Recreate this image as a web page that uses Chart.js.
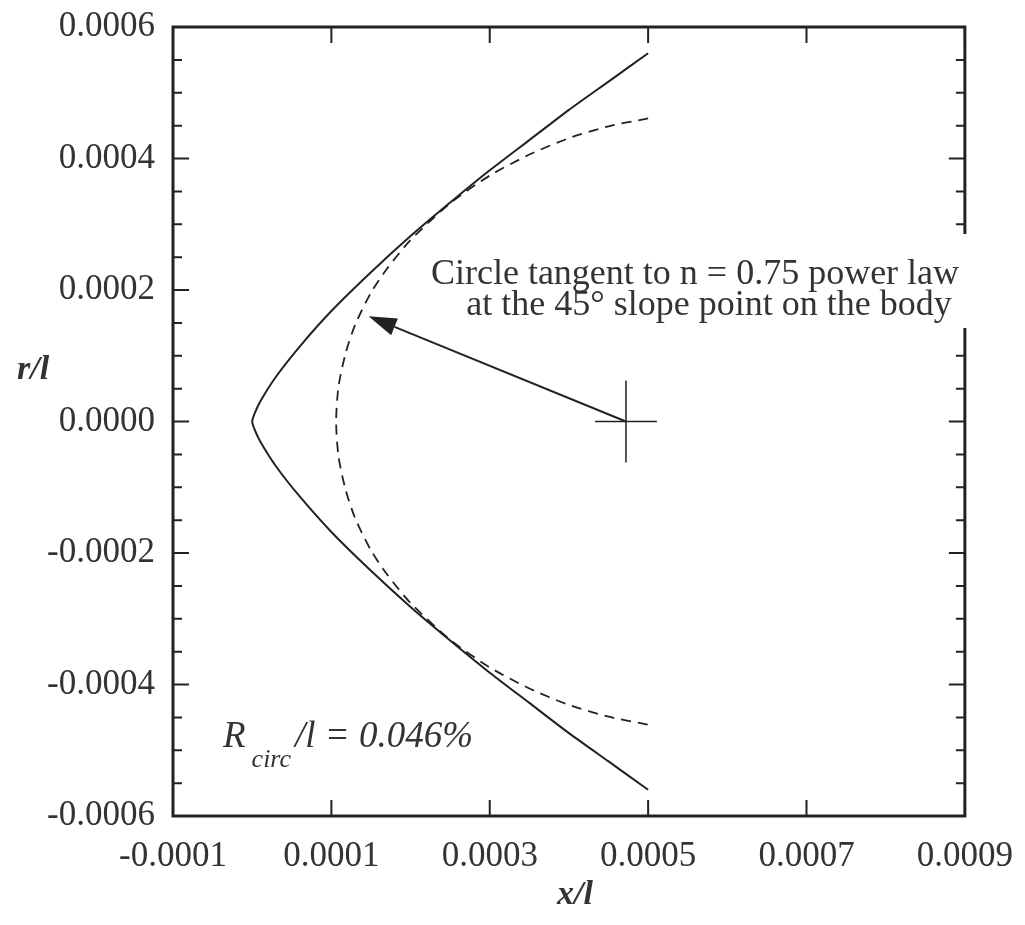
<!DOCTYPE html>
<html>
<head>
<meta charset="utf-8">
<script src="https://cdn.jsdelivr.net/npm/chart.js@4.4.0/dist/chart.umd.min.js"></script>
<style>
  html, body { margin: 0; padding: 0; background: #fff; }
  #wrap { width: 1025px; height: 925px; }
</style>
</head>
<body>
<div id="wrap"><canvas id="chart" width="1025" height="925"></canvas></div>
<script>
// ---- body contour, n = 0.75 power law (x/l, r/l) ----
const bodyX = [0.0005, 0.00045, 0.0004, 0.00035, 0.0003, 0.00025, 0.0002, 0.00015, 0.0001, 0.00006, 0.00003, 0.00001, 0.000003, 0,
               0.000003, 0.00001, 0.00003, 0.00006, 0.0001, 0.00015, 0.0002, 0.00025, 0.0003, 0.00035, 0.0004, 0.00045, 0.0005];
const bodyR = [0.00056, 0.000517, 0.000474, 0.000428, 0.000382, 0.000333, 0.000282, 0.000227, 0.000168, 0.000114, 0.000068, 0.00003, 0.000012, 0,
               -0.000012, -0.00003, -0.000068, -0.000114, -0.000168, -0.000227, -0.000282, -0.000333, -0.000382, -0.000428, -0.000474, -0.000517, -0.00056];

// ---- tangent circle (dashed) ----
const circleX = [0.0005, 0.00045, 0.0004, 0.00035, 0.0003, 0.00025, 0.0002, 0.00017, 0.00015, 0.00013, 0.000118, 0.000109, 0.000106,
                 0.000109, 0.000118, 0.00013, 0.00015, 0.00017, 0.0002, 0.00025, 0.0003, 0.00035, 0.0004, 0.00045, 0.0005];
const circleR = [0.000461, 0.000449, 0.000431, 0.000406, 0.000374, 0.000332, 0.000276, 0.000232, 0.000196, 0.000147, 0.000104, 0.000053, 0,
                 -0.000053, -0.000104, -0.000147, -0.000196, -0.000232, -0.000276, -0.000332, -0.000374, -0.000406, -0.000431, -0.000449, -0.000461];

// ---- axes ----
const xTicks = [-0.0001, 0.0001, 0.0003, 0.0005, 0.0007, 0.0009];
const yTicks = [-0.0006, -0.0004, -0.0002, 0, 0.0002, 0.0004, 0.0006];
const yMinorTicks = [-0.00055, -0.0005, -0.00045, -0.00035, -0.0003, -0.00025, -0.00015, -0.0001, -0.00005,
                     0.00005, 0.0001, 0.00015, 0.00025, 0.0003, 0.00035, 0.00045, 0.0005, 0.00055];

// ---- annotations ----
const crossAt = [0.000472, 0];
const arrowTip = [0.000147, 0.00016];
const noteLines = ['Circle tangent to n = 0.75 power law', 'at the 45° slope point on the body'];

const ink = '#222';
const serif = "'Liberation Serif', 'Times New Roman', serif";
Chart.defaults.font.family = serif;
Chart.defaults.color = '#333';

const toPoints = (xs, ys) => xs.map((v, i) => ({ x: v, y: ys[i] }));

// frame, inward ticks, arrow, cross and text labels
const overlay = {
  id: 'overlay',
  afterDatasetsDraw(chart) {
    const { ctx, chartArea: a, scales: { x, y } } = chart;
    ctx.save();
    ctx.strokeStyle = ink;
    ctx.fillStyle = ink;

    // ticks (inside the frame, on all four sides)
    ctx.lineWidth = 2;
    ctx.beginPath();
    const major = 16, minor = 9;
    yTicks.forEach(v => {
      const py = y.getPixelForValue(v);
      ctx.moveTo(a.left, py); ctx.lineTo(a.left + major, py);
      ctx.moveTo(a.right, py); ctx.lineTo(a.right - major, py);
    });
    yMinorTicks.forEach(v => {
      const py = y.getPixelForValue(v);
      ctx.moveTo(a.left, py); ctx.lineTo(a.left + minor, py);
      ctx.moveTo(a.right, py); ctx.lineTo(a.right - minor, py);
    });
    xTicks.forEach(v => {
      const px = x.getPixelForValue(v);
      ctx.moveTo(px, a.bottom); ctx.lineTo(px, a.bottom - major);
      ctx.moveTo(px, a.top); ctx.lineTo(px, a.top + major);
    });
    ctx.stroke();

    // frame
    ctx.lineWidth = 3;
    ctx.strokeRect(a.left, a.top, a.right - a.left, a.bottom - a.top);

    // cross
    const cx = x.getPixelForValue(crossAt[0]);
    const cy = y.getPixelForValue(crossAt[1]);
    ctx.lineWidth = 1.5;
    ctx.beginPath();
    ctx.moveTo(cx - 31, cy); ctx.lineTo(cx + 31, cy);
    ctx.moveTo(cx, cy - 41); ctx.lineTo(cx, cy + 41);
    ctx.stroke();

    // arrow from the cross to the circle
    const tx = x.getPixelForValue(arrowTip[0]);
    const ty = y.getPixelForValue(arrowTip[1]);
    const ang = Math.atan2(ty - cy, tx - cx);
    const headLen = 28, headW = 9;
    const bx = tx - headLen * Math.cos(ang), by = ty - headLen * Math.sin(ang);
    ctx.lineWidth = 2;
    ctx.beginPath();
    ctx.moveTo(cx, cy); ctx.lineTo(bx, by);
    ctx.stroke();
    ctx.beginPath();
    ctx.moveTo(tx, ty);
    ctx.lineTo(bx + headW * Math.sin(ang), by - headW * Math.cos(ang));
    ctx.lineTo(bx - headW * Math.sin(ang), by + headW * Math.cos(ang));
    ctx.closePath();
    ctx.fill();

    // note box (white background hides the frame behind it)
    ctx.fillStyle = '#fff';
    ctx.fillRect(426, 234, 552, 94);
    ctx.fillStyle = '#333';
    ctx.font = `36px ${serif}`;
    ctx.textAlign = 'center';
    ctx.textBaseline = 'alphabetic';
    ctx.fillText(noteLines[0], 695, 284);
    ctx.fillText(noteLines[1], 709, 315);

    // R_circ / l label
    ctx.textAlign = 'left';
    ctx.font = `italic 37px ${serif}`;
    let lx = 223;
    ctx.fillText('R', lx, 747);
    lx += ctx.measureText('R').width + 6;
    ctx.font = `italic 26px ${serif}`;
    ctx.fillText('circ', lx, 767);
    lx += ctx.measureText('circ').width + 4;
    ctx.font = `italic 37px ${serif}`;
    ctx.fillText('/l = 0.046%', lx, 747);

    // axis titles
    ctx.font = `bold italic 34px ${serif}`;
    ctx.fillText('r/l', 17, 379);
    ctx.textAlign = 'center';
    ctx.fillText('x/l', 575, 904);

    ctx.restore();
  }
};

new Chart(document.getElementById('chart'), {
  type: 'scatter',
  data: {
    datasets: [
      {
        label: 'Body',
        data: toPoints(bodyX, bodyR),
        showLine: true,
        borderColor: ink,
        borderWidth: 2,
        pointRadius: 0,
        tension: 0.2
      },
      {
        label: 'Circle',
        data: toPoints(circleX, circleR),
        showLine: true,
        borderColor: ink,
        borderWidth: 1.8,
        borderDash: [10, 7],
        pointRadius: 0,
        tension: 0.25
      }
    ]
  },
  options: {
    responsive: false,
    animation: false,
    layout: { padding: { top: 27, right: 56, left: 0, bottom: 0 } },
    plugins: { legend: { display: false }, tooltip: { enabled: false } },
    scales: {
      x: {
        type: 'linear',
        min: -0.0001,
        max: 0.0009,
        grid: { display: false },
        border: { display: false },
        afterBuildTicks: s => { s.ticks = xTicks.map(v => ({ value: v })); },
        afterFit: s => { s.height = 109; },
        ticks: {
          padding: 12,
          maxRotation: 0,
          font: { size: 35 },
          color: '#333',
          callback: v => v.toFixed(4)
        }
      },
      y: {
        type: 'linear',
        min: -0.0006,
        max: 0.0006,
        grid: { display: false },
        border: { display: false },
        afterBuildTicks: s => { s.ticks = yTicks.map(v => ({ value: v })); },
        afterFit: s => { s.width = 173; s.paddingTop = 0; s.paddingBottom = 0; },
        ticks: {
          padding: 10,
          font: { size: 35 },
          color: '#333',
          callback: v => v.toFixed(4)
        }
      }
    }
  },
  plugins: [overlay]
});
</script>
</body>
</html>
